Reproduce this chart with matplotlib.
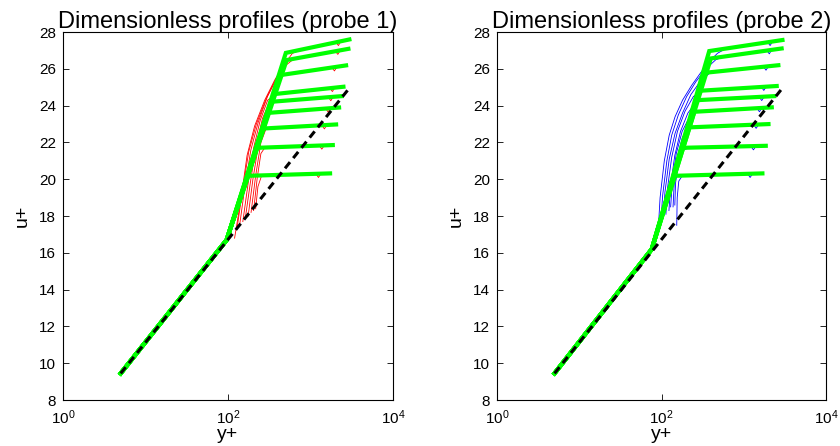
import matplotlib
matplotlib.use("Agg")
import matplotlib.pyplot as plt

# log law reference line (u+ vs y+)
ref_yplus = [5, 3000]
ref_uplus = [9.45, 25.0]

# green profiles: wall point, knee, start of outer part, end
wall_yplus = 5
wall_uplus = 9.45

knee1 = [96, 16.7]
start1_yplus = [501, 513, 427, 361, 329, 308, 268, 223, 176]
start1_uplus = [26.87, 26.48, 25.66, 24.63, 24.21, 23.61, 22.76, 21.71, 20.19]
end1_yplus = [2951, 2871, 2692, 2500, 2388, 2213, 2037, 1858, 1722]
end1_uplus = [27.6, 27.09, 26.19, 25.03, 24.52, 23.9, 22.98, 21.86, 20.32]

knee2 = [76, 16.2]
start2_yplus = [380, 398, 339, 288, 269, 251, 212, 176, 146]
start2_uplus = [26.97, 26.57, 25.79, 24.81, 24.3, 23.67, 22.82, 21.71, 20.19]
end2_yplus = [2951, 2884, 2630, 2512, 2344, 2188, 1995, 1849, 1683]
end2_uplus = [27.57, 27.11, 26.2, 25.07, 24.52, 23.91, 23.0, 21.82, 20.32]

# probe 1 profiles (red)
red_yplus = [
    [120, 144, 170, 210, 278, 368, 490, 603, 794, 2028, 2173, 2328, 2951],
    [128, 150, 178, 220, 291, 385, 501, 631, 1995, 2138, 2291, 2871],
    [139, 160, 189, 232, 300, 380, 479, 1816, 1945, 2084, 2692],
    [151, 174, 204, 245, 302, 380, 1714, 1837, 1968, 2500],
    [162, 186, 218, 261, 311, 363, 1641, 1758, 1884, 2388],
    [175, 200, 234, 273, 324, 1521, 1629, 1746, 2213],
    [190, 216, 250, 286, 316, 1371, 1469, 1574, 2037],
    [204, 226, 250, 279, 1276, 1368, 1466, 1858],
    [216, 230, 255, 1161, 1245, 1334, 1722],
]
red_uplus = [
    [16.8, 19.0, 21.3, 22.9, 24.3, 25.4, 26.3, 26.85, 27.06, 27.45, 27.27, 27.5, 27.6],
    [17.3, 19.4, 21.5, 23.0, 24.4, 25.5, 26.2, 26.55, 26.96, 26.79, 27.01, 27.09],
    [17.6, 19.6, 21.6, 23.1, 24.5, 25.4, 25.7, 26.07, 25.89, 26.11, 26.19],
    [17.7, 19.7, 21.7, 23.2, 24.3, 24.64, 24.95, 24.77, 24.98, 25.03],
    [17.9, 19.8, 21.8, 23.3, 24.1, 24.23, 24.46, 24.27, 24.48, 24.52],
    [18.0, 20.0, 21.9, 23.2, 23.62, 23.85, 23.66, 23.87, 23.9],
    [18.2, 20.2, 22.0, 22.7, 22.78, 22.94, 22.74, 22.95, 22.98],
    [18.3, 20.1, 21.4, 21.72, 21.83, 21.64, 21.84, 21.86],
    [18.4, 19.6, 20.2, 20.30, 20.10, 20.30, 20.32],
]

# probe 2 profiles (blue)
blue_yplus = [
    [91, 96, 108, 124, 146, 180, 232, 300, 380, 479, 603, 1950, 2089, 2239, 2951],
    [98, 103, 116, 133, 160, 202, 261, 345, 457, 575, 1905, 2042, 2188, 2884],
    [105, 110, 124, 146, 180, 227, 293, 380, 479, 1738, 1862, 1995, 2630],
    [113, 118, 133, 156, 193, 244, 314, 398, 1633, 1750, 1875, 2512],
    [123, 129, 145, 170, 209, 263, 331, 1542, 1652, 1770, 2344],
    [129, 135, 151, 178, 219, 275, 331, 1445, 1549, 1660, 2188],
    [138, 143, 157, 180, 214, 263, 1318, 1413, 1514, 1995],
    [145, 148, 162, 186, 219, 1222, 1309, 1403, 1849],
    [153, 155, 162, 178, 200, 1114, 1194, 1279, 1683],
]
blue_uplus = [
    [17.2, 19.0, 21.0, 22.4, 23.4, 24.3, 25.1, 25.8, 26.4, 26.85, 27.1, 27.45, 27.27, 27.49, 27.57],
    [17.6, 19.1, 21.0, 22.4, 23.5, 24.5, 25.3, 26.0, 26.5, 26.67, 27.0, 26.82, 27.04, 27.11],
    [17.9, 19.3, 21.1, 22.5, 23.6, 24.6, 25.3, 25.75, 25.86, 26.11, 25.93, 26.14, 26.2],
    [18.1, 19.5, 21.2, 22.6, 23.7, 24.5, 24.85, 24.85, 25.02, 24.83, 25.04, 25.07],
    [18.3, 19.7, 21.3, 22.6, 23.6, 24.2, 24.32, 24.47, 24.28, 24.49, 24.52],
    [18.5, 19.8, 21.4, 22.6, 23.4, 23.68, 23.7, 23.86, 23.67, 23.88, 23.91],
    [18.5, 19.9, 21.3, 22.3, 22.8, 22.84, 22.96, 22.77, 22.97, 23.0],
    [18.6, 19.8, 21.0, 21.6, 21.72, 21.79, 21.6, 21.8, 21.82],
    [17.5, 19.0, 19.9, 20.18, 20.2, 20.29, 20.1, 20.3, 20.32],
]

y_ticks = [8, 10, 12, 14, 16, 18, 20, 22, 24, 26, 28]
x_ticks = [1, 100, 10000]

plt.rcParams['font.family'] = ['Liberation Sans', 'DejaVu Sans']


def draw_panel(ax, title, prof_y, prof_u, color, knee, sy, su, ey, eu):
    # measured profiles, thin
    for yy, uu in zip(prof_y, prof_u):
        ax.plot(yy, uu, color=color, lw=0.6)
    # wall function profiles, thick green
    for i in range(len(sy)):
        ax.plot([wall_yplus, knee[0], sy[i], ey[i]],
                [wall_uplus, knee[1], su[i], eu[i]],
                color=(0, 1, 0), lw=3.0, solid_joinstyle='miter')
    # log law on top
    ax.plot(ref_yplus, ref_uplus, color='black', lw=2.2, linestyle=(0, (2.6, 1.7)))

    ax.set_xscale('log')
    ax.set_xlim(1, 10000)
    ax.set_ylim(8, 28)
    ax.set_xticks(x_ticks)
    ax.xaxis.set_minor_locator(matplotlib.ticker.NullLocator())
    ax.set_yticks(y_ticks)
    ax.tick_params(direction='in', top=True, right=True, labelsize=11, length=4.5, width=0.6)
    ax.tick_params(axis='x', pad=6)
    ax.tick_params(axis='y', pad=5)
    for s in ax.spines.values():
        s.set_linewidth(0.8)
    ax.set_title(title, fontsize=17, pad=3)
    ax.set_xlabel('y+', fontsize=14, labelpad=-1)
    ax.set_ylabel('u+', fontsize=14, labelpad=6)


fig = plt.figure(figsize=(8.4, 4.46), dpi=100)
ax1 = fig.add_axes([0.075, 0.103, 0.393, 0.825])
ax2 = fig.add_axes([0.5917, 0.103, 0.3917, 0.825])

draw_panel(ax1, 'Dimensionless profiles (probe 1)', red_yplus, red_uplus, 'red',
           knee1, start1_yplus, start1_uplus, end1_yplus, end1_uplus)
draw_panel(ax2, 'Dimensionless profiles (probe 2)', blue_yplus, blue_uplus, 'blue',
           knee2, start2_yplus, start2_uplus, end2_yplus, end2_uplus)

fig.savefig('out.png', dpi=100)
